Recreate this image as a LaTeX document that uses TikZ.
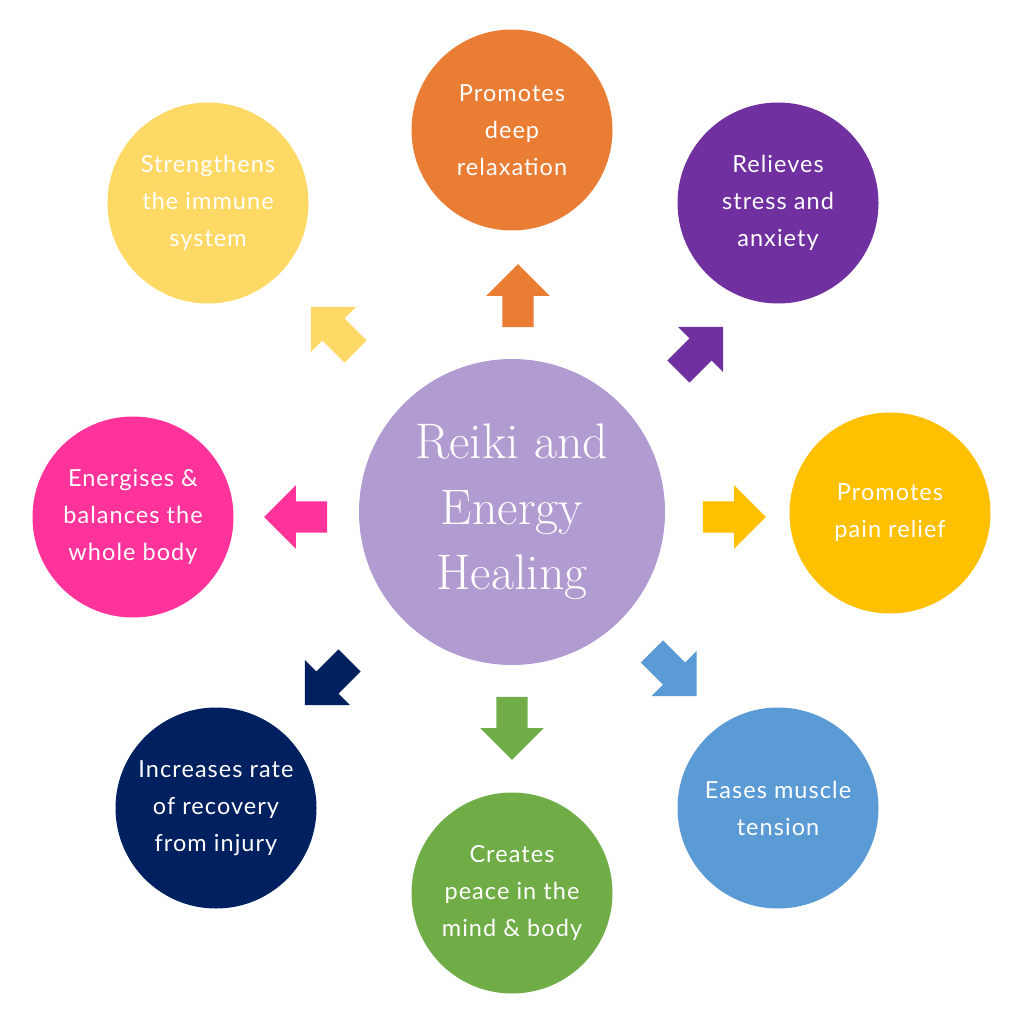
\documentclass[tikz,border=0pt]{standalone}
\usepackage{fontspec}
\newfontfamily\labelfont[LetterSpace=4.5]{Lato}
\usetikzlibrary{shapes.arrows}

\definecolor{reikililac}{HTML}{B19CD1}
\definecolor{relaxorange}{HTML}{EA7D34}
\definecolor{stresspurple}{HTML}{7030A0}
\definecolor{paingold}{HTML}{FFC000}
\definecolor{muscleblue}{HTML}{5B9BD5}
\definecolor{peacegreen}{HTML}{70AD47}
\definecolor{recoverynavy}{HTML}{002060}
\definecolor{energypink}{HTML}{FF3399}
\definecolor{immuneyellow}{HTML}{FFD966}

\tikzset{
  benefit/.style={shape=circle, fill=#1, minimum size=201pt, inner sep=0pt,
    text=white, align=center, font=\labelfont\fontsize{23.5}{37}\selectfont},
  pointer/.style={single arrow, fill=#1, draw=none, minimum height=63pt,
    minimum width=63pt, inner xsep=0pt, inner ysep=15.5pt, outer sep=0pt,
    single arrow head extend=16pt}
}

\begin{document}
\begin{tikzpicture}[x=1pt,y=-1pt]
\fill[white] (0,0) rectangle (1024,1024);
\useasboundingbox (0,0) rectangle (1024,1024);

\node[shape=circle, fill=reikililac, minimum size=306pt, inner sep=0pt,
  text=white, align=center, font=\fontsize{50}{65.5}\selectfont] (reiki) at (512,512)
  {Reiki and\\Energy\\Healing};

\node[benefit=relaxorange] (relax) at (512,130) {Promotes\\deep\\relaxation};
\node[benefit=stresspurple] (stress) at (778,203) {Relieves\\stress and\\anxiety};
\node[benefit=paingold] (pain) at (890,513) {Promotes\\pain relief};
\node[benefit=muscleblue] (muscle) at (778,808) {Eases muscle\\tension};
\node[benefit=peacegreen] (peace) at (512,893) {Creates\\peace in the\\mind \& body};
\node[benefit=recoverynavy] (recovery) at (216,808) {Increases rate\\of recovery\\from injury};
\node[benefit=energypink] (energy) at (133,517) {Energises \&\\balances the\\whole body};
\node[benefit=immuneyellow] (immune) at (208,203) {Strengthens\\the immune\\system};

\node[pointer=relaxorange, rotate=90] (torelax) at (518,303.5) {};
\node[pointer=stresspurple, rotate=45] (tostress) at (695.2,354.8) {};
\node[pointer=paingold] (topain) at (726.5,517) {};
\node[pointer=muscleblue, rotate=-45] (tomuscle) at (668.7,668.2) {};
\node[pointer=peacegreen, rotate=-90] (topeace) at (512,720.5) {};
\node[pointer=recoverynavy, rotate=-135] (torecovery) at (332.8,677.2) {};
\node[pointer=energypink, rotate=180] (toenergy) at (303.5,517) {};
\node[pointer=immuneyellow, rotate=135] (toimmune) at (338.8,334.8) {};
\end{tikzpicture}
\end{document}
